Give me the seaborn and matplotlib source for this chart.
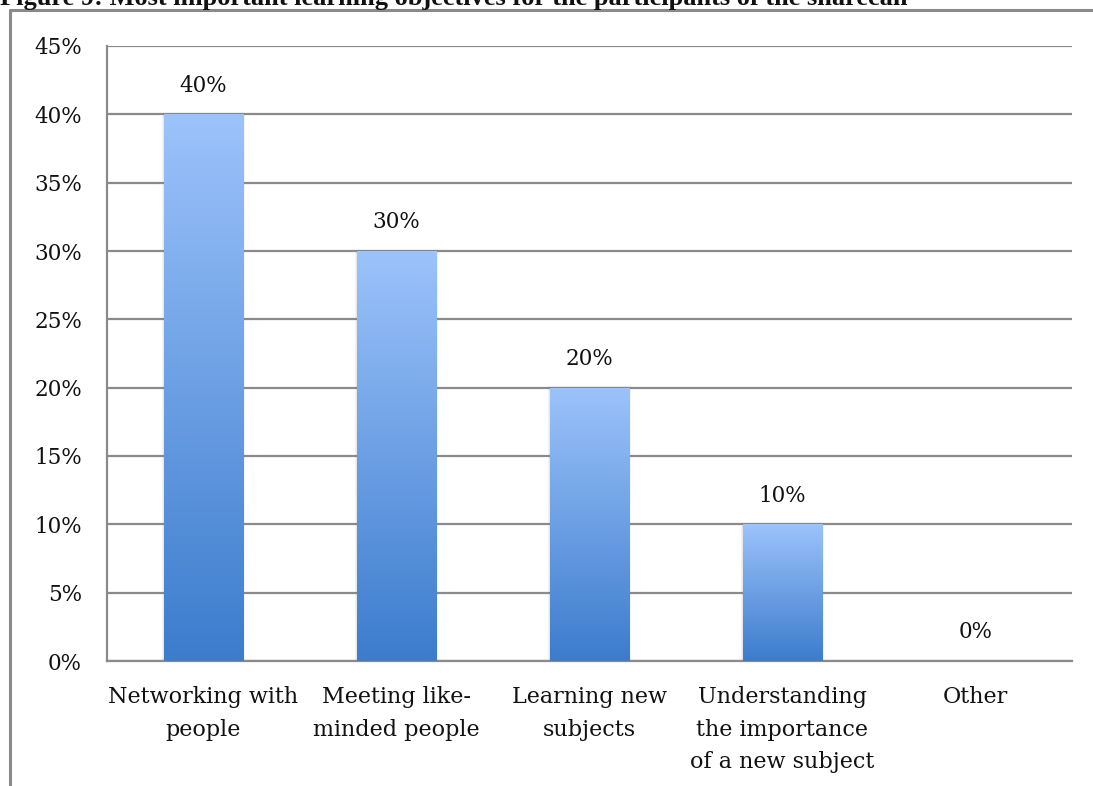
import numpy as np
import pandas as pd
import matplotlib
matplotlib.use("Agg")
import matplotlib.pyplot as plt
import seaborn as sns
from matplotlib.lines import Line2D
from matplotlib.colors import LinearSegmentedColormap

categories = ["Networking with\npeople", "Meeting like-\nminded people", "Learning new\nsubjects",
              "Understanding\nthe importance\nof a new subject", "Other"]
shares = [40, 30, 20, 10, 0]
y_ticks = [0, 5, 10, 15, 20, 25, 30, 35, 40, 45]
title = "Figure 9: Most important learning objectives for the participants of the sharecan"

sns.set_theme(style="white")
plt.rcParams["font.family"] = ["DejaVu Serif"]

W, H = 1093, 786
fig = plt.figure(figsize=(W / 100, H / 100), dpi=100)
ax = fig.add_axes([107 / W, 1 - 661 / H, (1072 - 107) / W, (661 - 46) / H])

df = pd.DataFrame({"objective": categories, "share": shares})
sns.barplot(data=df, x="objective", y="share", ax=ax, width=0.41,
            color="#5b92de", saturation=1, edgecolor="none")

grad = LinearSegmentedColormap.from_list("bargrad", ["#3c7ccd", "#9cc3fb"])
ax.set_xlim(-0.5, 4.5)
ax.set_ylim(0, 45)
for p in list(ax.patches):
    x0, w, h = p.get_x(), p.get_width(), p.get_height()
    if h <= 0:
        p.set_visible(False)
        continue
    # soft drop shadow
    for k, a in enumerate([0.10, 0.06, 0.03]):
        sh = plt.Rectangle((x0 - 0.004 * (k + 1), 0), w + 0.008 * (k + 1), h + 0.05 * (k + 1),
                           facecolor="#808080", alpha=a, edgecolor="none", zorder=2)
        ax.add_patch(sh)
    img = np.linspace(0, 1, 256).reshape(-1, 1)
    im = ax.imshow(img, cmap=grad, origin="lower", aspect="auto",
                   extent=[x0, x0 + w, 0, h], zorder=3)
    im.set_clip_path(p)
    p.set_facecolor("none")
    p.set_zorder(3)
ax.set_xlim(-0.5, 4.5)
ax.set_ylim(0, 45)

for i, v in enumerate(shares):
    ax.text(i, v + 1.3, f"{v}%", ha="center", va="bottom", fontsize=15.5, color="#111111")

ax.set_yticks(y_ticks)
ax.set_yticklabels([f"{t}%" for t in y_ticks], fontsize=15.5)
ax.set_xticks(range(len(categories)))
ax.set_xticklabels(categories, fontsize=16, linespacing=1.62)
ax.set_xticks(np.arange(-0.5, 5, 1), minor=True)
ax.tick_params(axis="x", which="major", length=0, pad=18)
ax.tick_params(axis="x", which="minor", length=8, width=1.6, color="#8a8a8a", direction="out")
ax.tick_params(axis="y", length=9, width=1.6, color="#8a8a8a", direction="out", pad=9)
for lab in ax.get_xticklabels() + ax.get_yticklabels():
    lab.set_color("#111111")
ax.set_xlabel("")
ax.set_ylabel("")
ax.yaxis.grid(True, color="#8a8a8a", linewidth=1.6, zorder=0)
ax.set_axisbelow(True)
for s in ["top", "right"]:
    ax.spines[s].set_visible(False)
for s in ["left", "bottom"]:
    ax.spines[s].set_color("#8a8a8a")
    ax.spines[s].set_linewidth(1.6)

# page frame around the figure block
fig.add_artist(Line2D([10 / W, 10 / W], [0, 1 - 10 / H], transform=fig.transFigure,
                      color="#8a8a8a", linewidth=2.2))
fig.add_artist(Line2D([10 / W, 1], [1 - 10 / H, 1 - 10 / H], transform=fig.transFigure,
                      color="#8a8a8a", linewidth=2.2))
fig.text(0.0, 1 - 5 / H, title, ha="left", va="baseline", fontsize=19, fontweight="bold",
         color="#111111", family=["Liberation Serif"])

fig.savefig("out.png", dpi=100, facecolor="white")
